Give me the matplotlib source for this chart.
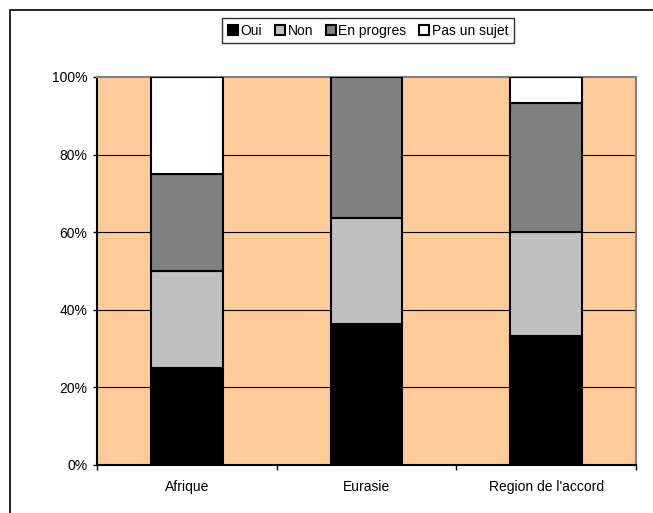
import numpy as np
import matplotlib.pyplot as plt
from matplotlib.patches import Rectangle

plt.rcParams['font.family'] = ['Liberation Sans', 'DejaVu Sans']

regions = ['Afrique', 'Eurasie', "Region de l'accord"]
series = ['Oui', 'Non', 'En progres', 'Pas un sujet']
oui = [25.0, 36.4, 33.3]
non = [25.0, 27.3, 26.7]
en_progres = [25.0, 36.4, 33.3]
pas_un_sujet = [25.0, 0.0, 6.7]
colors = ['#000000', '#c0c0c0', '#808080', '#ffffff']

fig = plt.figure(figsize=(6.53, 5.13), dpi=100)
ax = fig.add_axes([97/653, 48/513, 539/653, 388/513])
ax.set_facecolor('#ffcc99')

x = np.arange(len(regions))
bottom = np.zeros(len(regions))
for name, vals, c in zip(series, [oui, non, en_progres, pas_un_sujet], colors):
    vals = np.array(vals)
    ax.bar(x, vals, 0.4, bottom=bottom, color=c, edgecolor='black', lw=1.5,
           label=name, zorder=3)
    bottom += vals

ax.set_xlim(-0.5, 2.5)
ax.set_ylim(0, 100)
ax.set_yticks([0, 20, 40, 60, 80, 100])
ax.set_yticklabels(['0%', '20%', '40%', '60%', '80%', '100%'])
ax.set_xticks(x)
ax.set_xticklabels(regions)
ax.set_xticks([-0.5, 0.5, 1.5, 2.5], minor=True)
ax.tick_params(axis='x', which='major', length=0, pad=11)
ax.tick_params(axis='x', which='minor', length=3.5, width=1, direction='out')
ax.tick_params(axis='y', length=3, width=1, direction='out', pad=4)
ax.tick_params(labelsize=10)
for v in [20, 40, 60, 80]:
    ax.axhline(v, color='black', lw=0.8, zorder=1)

ax.spines['left'].set_color('black')
ax.spines['bottom'].set_color('black')
ax.spines['top'].set_color('#808080')
ax.spines['right'].set_color('#808080')
for s in ax.spines.values():
    s.set_linewidth(1.5)

fig.patches.append(Rectangle((10/653, -0.1), 1.2, 503/513 + 0.1,
                             transform=fig.transFigure, fill=False,
                             edgecolor='black', lw=1.2))

leg = fig.legend(loc='upper center', bbox_to_anchor=(368/653, 1 - 18/513),
                 ncol=4, fontsize=10, frameon=True, fancybox=False,
                 handlelength=0.72, handleheight=0.72, handletextpad=0.2,
                 columnspacing=0.9, borderpad=0.4, borderaxespad=0)
leg.get_frame().set_edgecolor('black')
leg.get_frame().set_linewidth(1)

fig.savefig('out.png', dpi=100)
